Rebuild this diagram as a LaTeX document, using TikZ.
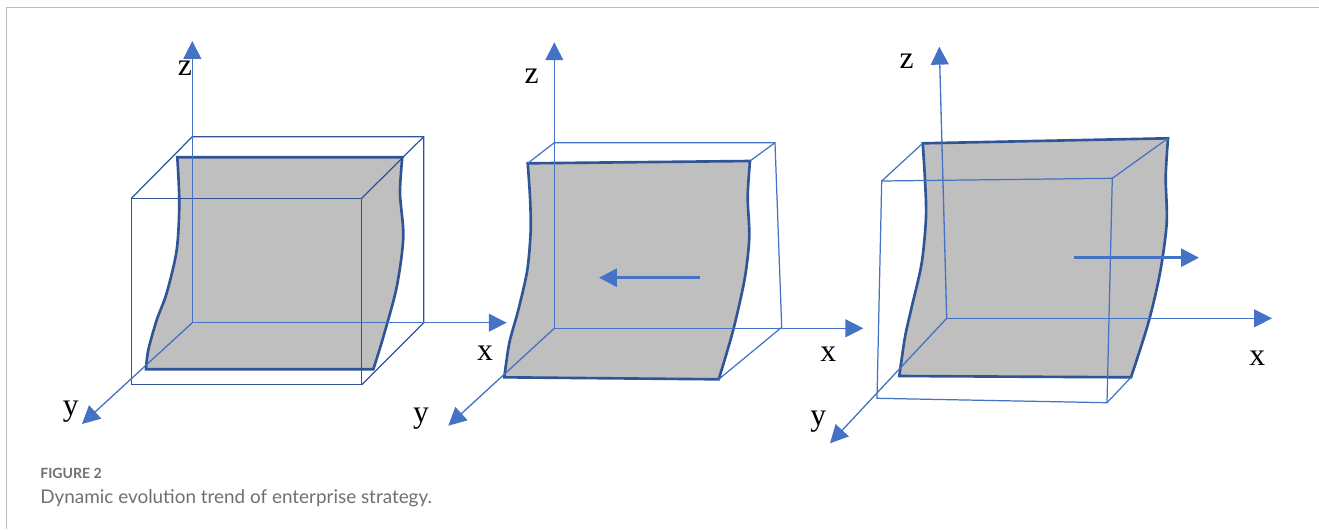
\documentclass[tikz,border=0pt]{standalone}
\usepackage{fontspec}
\setmainfont{Liberation Serif}
\newfontfamily\capfont{Lato}
\usetikzlibrary{arrows.meta}
\definecolor{axisblue}{HTML}{4472C4}
\definecolor{edgeblue}{HTML}{2F5597}
\definecolor{sheetgray}{HTML}{BFBFBF}
\definecolor{framegray}{HTML}{BDBDBD}
\definecolor{capgray}{HTML}{707070}
\tikzset{
	axisline/.style={axisblue,line width=0.75pt,-{Triangle[length=10.2pt,width=10.2pt]}},
	boxline/.style={axisblue,line width=0.7pt},
	sheet/.style={draw=edgeblue,fill=sheetgray,line width=1.5pt,line join=miter},
	movearrow/.style={axisblue,line width=1.7pt,-{Triangle[length=10.2pt,width=10.2pt,sep=0pt]}},
	axislabel/.style={font=\fontsize{18}{20}\selectfont,text=black,inner sep=0pt},
}
\begin{document}
\begin{tikzpicture}[x=0.02cm,y=-0.02cm]
	\useasboundingbox (0,0) rectangle (1319,529);
	% frame
	\draw[framegray,line width=0.8pt] (6.5,529)--(6.5,7.5)--(1319,7.5);
	
	% left panel
	\coordinate (oa) at (192.3,322.7);
	\coordinate (sa1) at (177.3,157.3);
	\coordinate (sa2) at (402.3,157.3);
	\coordinate (sa3) at (373.3,369.3);
	\coordinate (sa4) at (146,369.3);
	\coordinate (fa1) at (131.4,198.3);
	\coordinate (fa2) at (361.7,198.3);
	\coordinate (fa3) at (361.7,384.7);
	\coordinate (fa4) at (131.4,384.7);
	\coordinate (ba1) at (192.3,136.7);
	\coordinate (ba2) at (423.7,136.7);
	\coordinate (ba3) at (423.7,322.7);
	\draw[sheet] (sa1)
		--plot[smooth] coordinates {(sa2) (400,193) (403.3,237) (396.7,287) (383.3,337) (sa3)}
		--plot[smooth] coordinates {(sa4) (148.3,350) (156.7,320) (166.7,293) (176.7,250) (179.3,203) (sa1)}
		--cycle;
	\draw[boxline,edgeblue] (fa1)--(fa2)--(fa3)--(fa4)--cycle;
	\draw[boxline,edgeblue] (fa1)--(ba1)--(ba2)--(ba3)--(fa3);
	\draw[boxline,edgeblue] (fa2)--(ba2);
	\draw[axisline] (oa)--(192.3,41);
	\draw[axisline] (oa)--(506.7,322.7);
	\draw[axisline] (oa)--(82,424);
	\node[axislabel] (za) at (185,68.5) {z};
	\node[axislabel] (xa) at (485,353.5) {x};
	\node[axislabel] (ya) at (70.7,412) {y};
	
	% middle panel
	\coordinate (ob) at (554.3,328.3);
	\coordinate (sb1) at (527.7,163.3);
	\coordinate (sb2) at (750,161);
	\coordinate (sb3) at (718.7,379.3);
	\coordinate (sb4) at (504.3,377.3);
	\coordinate (bb1) at (554.3,142.7);
	\coordinate (bb2) at (775,142.7);
	\coordinate (bb3) at (781.7,327.3);
	\draw[sheet] (sb1)
		--plot[smooth] coordinates {(sb2) (747.7,197) (749.3,237) (745,277) (735,323) (726.7,353) (sb3)}
		--plot[smooth] coordinates {(sb4) (509.3,343) (518.3,310) (527.3,270) (530.7,230) (530,197) (sb1)}
		--cycle;
	\draw[boxline] (sb1)--(bb1)--(bb2)--(bb3)--(sb3);
	\draw[boxline] (sb2)--(bb2);
	\draw[axisline] (ob)--(554.3,42.3);
	\draw[axisline] (ob)--(863.3,328.3);
	\draw[axisline] (ob)--(448.3,425.7);
	\draw[movearrow] (700,277.7)--(599,277.7);
	\node[axislabel] (zb) at (531.7,76) {z};
	\node[axislabel] (xb) at (828.3,354.5) {x};
	\node[axislabel] (yb) at (421,418.5) {y};
	
	% right panel
	\coordinate (oc) at (946.7,318.3);
	\coordinate (sc1) at (922.7,143.3);
	\coordinate (sc2) at (1168,138.3);
	\coordinate (sc3) at (1131,377.3);
	\coordinate (sc4) at (899.3,376);
	\coordinate (fc1) at (881.7,181);
	\coordinate (fc2) at (1112.3,178.3);
	\coordinate (fc3) at (1107,402.7);
	\coordinate (fc4) at (877,398.3);
	\draw[sheet] (sc1)
		--plot[smooth] coordinates {(sc2) (1165.7,177) (1166.7,223) (1160,273) (1148.3,323) (sc3)}
		--plot[smooth] coordinates {(sc4) (905,337) (911.7,307) (921.7,263) (926,217) (925,180) (sc1)}
		--cycle;
	\draw[boxline] (fc1)--(fc2)--(fc3)--(fc4)--cycle;
	\draw[boxline] (fc1)--(sc1);
	\draw[boxline] (fc2)--(sc2);
	\draw[boxline] (fc3)--(sc3);
	\draw[axisline] (oc)--(939.3,46.7);
	\draw[axisline] (oc)--(1272,318.3);
	\draw[axisline] (oc)--(830,443.3);
	\draw[movearrow] (1074,257.7)--(1199,257.7);
	\node[axislabel] (zc) at (906.7,61.5) {z};
	\node[axislabel] (xc) at (1257.3,358) {x};
	\node[axislabel] (yc) at (818.3,422) {y};
	
	% caption
	\node[anchor=base west,inner sep=0pt,text=capgray,font=\capfont\bfseries\fontsize{8}{10}\selectfont] (figno) at (40,478) {FIGURE 2};
	\node[anchor=base west,inner sep=0pt,text=capgray,font=\capfont\fontsize{10.75}{12}\selectfont] (figcap) at (40,503) {Dynamic evolution trend of enterprise strategy.};
\end{tikzpicture}
\end{document}
